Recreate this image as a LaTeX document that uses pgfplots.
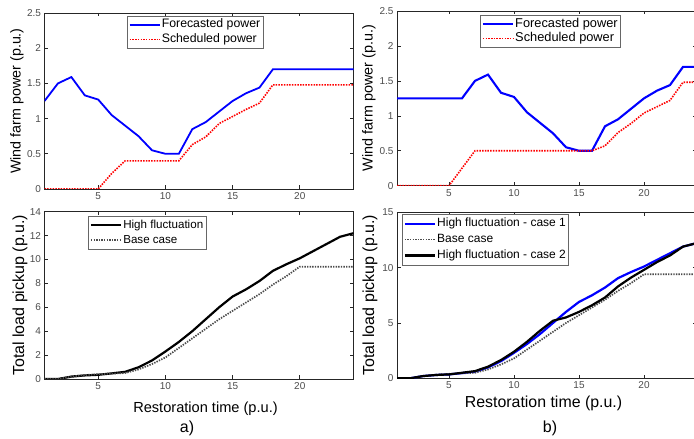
\documentclass[border=0pt]{standalone}
\usepackage{fontspec}
\setmainfont{Liberation Sans}
\usepackage{pgfplots}
\pgfplotsset{compat=1.18}

\pgfplotsset{
  myax/.style={
    scale only axis,
    anchor=south west,
    xmin=1, xmax=24,
    xtick={5,10,15,20},
    axis line style={black!85, line width=0.7pt},
    every tick/.style={black!85, line width=0.6pt},
    major tick length=3.5pt,
    tick label style={font=\fontsize{10}{11}\selectfont, text=black!70},
    /pgf/number format/assume math mode=true,
    legend cell align=left,
    legend style={draw=black!60, line width=0.6pt, font=\fontsize{12.3}{14}\selectfont,
      anchor=north west, inner sep=1.5pt, row sep=0pt,
      nodes={inner sep=1.2pt, text height=9pt, text depth=3pt}},
    legend image code/.code={\draw[#1] (0pt,0pt) -- (30pt,0pt);},
  }
}

\begin{document}
\begin{tikzpicture}
\useasboundingbox (0pt,0pt) rectangle (694pt,439pt);

% top left
\begin{axis}[myax, at={(44.5pt,250pt)}, width=309pt, height=176pt,
  ymin=0, ymax=2.5, ytick={0,0.5,1,1.5,2,2.5},
  ylabel={Wind farm power (p.u.)},
  ylabel style={at={(axis description cs:-0.089,0.5)}, anchor=center, font=\fontsize{14.3}{16}\selectfont},
  legend style={at={(axis description cs:0.267,0.983)}}]
\addplot[blue, line width=1.8pt] coordinates {(1,1.25)(2,1.5)(3,1.59)(4,1.33)(5,1.27)(6,1.05)(7,0.9)(8,0.75)(9,0.55)(10,0.5)(11,0.5)(12,0.85)(13,0.95)(14,1.1)(15,1.25)(16,1.36)(17,1.44)(18,1.7)(19,1.7)(20,1.7)(21,1.7)(22,1.7)(23,1.7)(24,1.7)};
\addlegendentry{Forecasted power}
\addplot[red, line width=1.6pt, dash pattern=on 1.5pt off 1.2pt] coordinates {(1,0)(2,0)(3,0)(4,0)(5,0)(6,0.22)(7,0.4)(8,0.4)(9,0.4)(10,0.4)(11,0.4)(12,0.63)(13,0.74)(14,0.93)(15,1.03)(16,1.13)(17,1.22)(18,1.48)(19,1.48)(20,1.48)(21,1.48)(22,1.48)(23,1.48)(24,1.48)};
\addlegendentry{Scheduled power}
\end{axis}

% bottom left
\begin{axis}[myax, at={(44.5pt,60pt)}, width=309pt, height=167.3pt,
  ymin=0, ymax=14, ytick={0,2,4,6,8,10,12,14},
  ylabel={Total load pickup (p.u.)},
  ylabel style={at={(axis description cs:-0.079,0.5)}, anchor=center, font=\fontsize{16}{18}\selectfont},
  xlabel={Restoration time (p.u.)},
  xlabel style={at={(axis description cs:0.521,-0.179)}, anchor=center, font=\fontsize{14.6}{17}\selectfont},
  legend style={at={(axis description cs:0.141,0.974)}, font=\fontsize{11.6}{14}\selectfont,
    nodes={inner sep=1.2pt, text height=9.5pt, text depth=3pt}}]
\addplot[black, line width=2.2pt] coordinates {(1,0)(2,0)(3,0.2)(4,0.3)(5,0.35)(6,0.47)(7,0.6)(8,0.98)(9,1.55)(10,2.3)(11,3.1)(12,4.0)(13,5.0)(14,6.0)(15,6.9)(16,7.5)(17,8.2)(18,9.05)(19,9.6)(20,10.1)(21,10.7)(22,11.3)(23,11.9)(24,12.2)};
\addlegendentry{High fluctuation}
\addplot[black!70, line width=1.7pt, dash pattern=on 1.4pt off 1.2pt] coordinates {(1,0)(2,0)(3,0.2)(4,0.33)(5,0.4)(6,0.45)(7,0.5)(8,0.8)(9,1.25)(10,1.8)(11,2.6)(12,3.4)(13,4.2)(14,5.0)(15,5.7)(16,6.4)(17,7.1)(18,7.9)(19,8.6)(20,9.4)(21,9.4)(22,9.4)(23,9.4)(24,9.4)};
\addlegendentry{Base case}
\end{axis}

% top right
\begin{axis}[myax, at={(397pt,253.3pt)}, width=299pt, height=174.7pt,
  ymin=0, ymax=2.5, ytick={0,0.5,1,1.5,2,2.5},
  ylabel={Wind farm power (p.u.)},
  ylabel style={at={(axis description cs:-0.094,0.5)}, anchor=center, font=\fontsize{14.4}{16}\selectfont},
  legend style={at={(axis description cs:0.278,0.977)}, font=\fontsize{12.8}{15}\selectfont}]
\addplot[blue, line width=2.1pt] coordinates {(1,1.25)(2,1.25)(3,1.25)(4,1.25)(5,1.25)(6,1.25)(7,1.5)(8,1.59)(9,1.33)(10,1.27)(11,1.05)(12,0.9)(13,0.75)(14,0.55)(15,0.5)(16,0.5)(17,0.85)(18,0.95)(19,1.1)(20,1.25)(21,1.36)(22,1.44)(23,1.7)(24,1.7)};
\addlegendentry{Forecasted power}
\addplot[red, line width=1.6pt, dash pattern=on 1.5pt off 1.2pt] coordinates {(1,0)(2,0)(3,0)(4,0)(5,0)(6,0.25)(7,0.5)(8,0.5)(9,0.5)(10,0.5)(11,0.5)(12,0.5)(13,0.5)(14,0.5)(15,0.5)(16,0.5)(17,0.57)(18,0.76)(19,0.89)(20,1.04)(21,1.13)(22,1.22)(23,1.48)(24,1.48)};
\addlegendentry{Scheduled power}
\end{axis}

% bottom right
\begin{axis}[myax, at={(397pt,60.7pt)}, width=299pt, height=166pt,
  ymin=0, ymax=15, ytick={0,5,10,15},
  ylabel={Total load pickup (p.u.)},
  ylabel style={at={(axis description cs:-0.09,0.5)}, anchor=center, font=\fontsize{16}{18}\selectfont},
  xlabel={Restoration time (p.u.)},
  xlabel style={at={(axis description cs:0.49,-0.149)}, anchor=center, font=\fontsize{15.9}{18}\selectfont},
  legend style={at={(axis description cs:0.0167,0.99)}, font=\fontsize{12}{14}\selectfont,
    nodes={inner sep=1.2pt, text height=10pt, text depth=3.5pt}}]
\addplot[blue, line width=2.2pt] coordinates {(1,0)(2,0)(3,0.2)(4,0.3)(5,0.35)(6,0.47)(7,0.6)(8,0.98)(9,1.55)(10,2.3)(11,3.1)(12,4.0)(13,5.0)(14,6.0)(15,6.9)(16,7.5)(17,8.2)(18,9.05)(19,9.6)(20,10.1)(21,10.7)(22,11.3)(23,11.9)(24,12.2)};
\addlegendentry{High fluctuation - case 1}
\addplot[black!70, line width=1.7pt, dash pattern=on 1.4pt off 1.2pt] coordinates {(1,0)(2,0)(3,0.2)(4,0.33)(5,0.4)(6,0.45)(7,0.5)(8,0.8)(9,1.25)(10,1.8)(11,2.6)(12,3.4)(13,4.2)(14,5.0)(15,5.7)(16,6.4)(17,7.1)(18,7.9)(19,8.6)(20,9.4)(21,9.4)(22,9.4)(23,9.4)(24,9.4)};
\addlegendentry{Base case}
\addplot[black, line width=2.2pt] coordinates {(1,0)(2,0)(3,0.2)(4,0.3)(5,0.35)(6,0.5)(7,0.65)(8,1.05)(9,1.65)(10,2.4)(11,3.3)(12,4.3)(13,5.2)(14,5.5)(15,6.0)(16,6.6)(17,7.3)(18,8.3)(19,9.1)(20,9.8)(21,10.5)(22,11.1)(23,11.9)(24,12.2)};
\addlegendentry{High fluctuation - case 2}
\end{axis}

\node[font=\fontsize{16}{18}\selectfont] at (187pt,11pt) {a)};
\node[font=\fontsize{16}{18}\selectfont] at (550pt,11pt) {b)};
\end{tikzpicture}
\end{document}
